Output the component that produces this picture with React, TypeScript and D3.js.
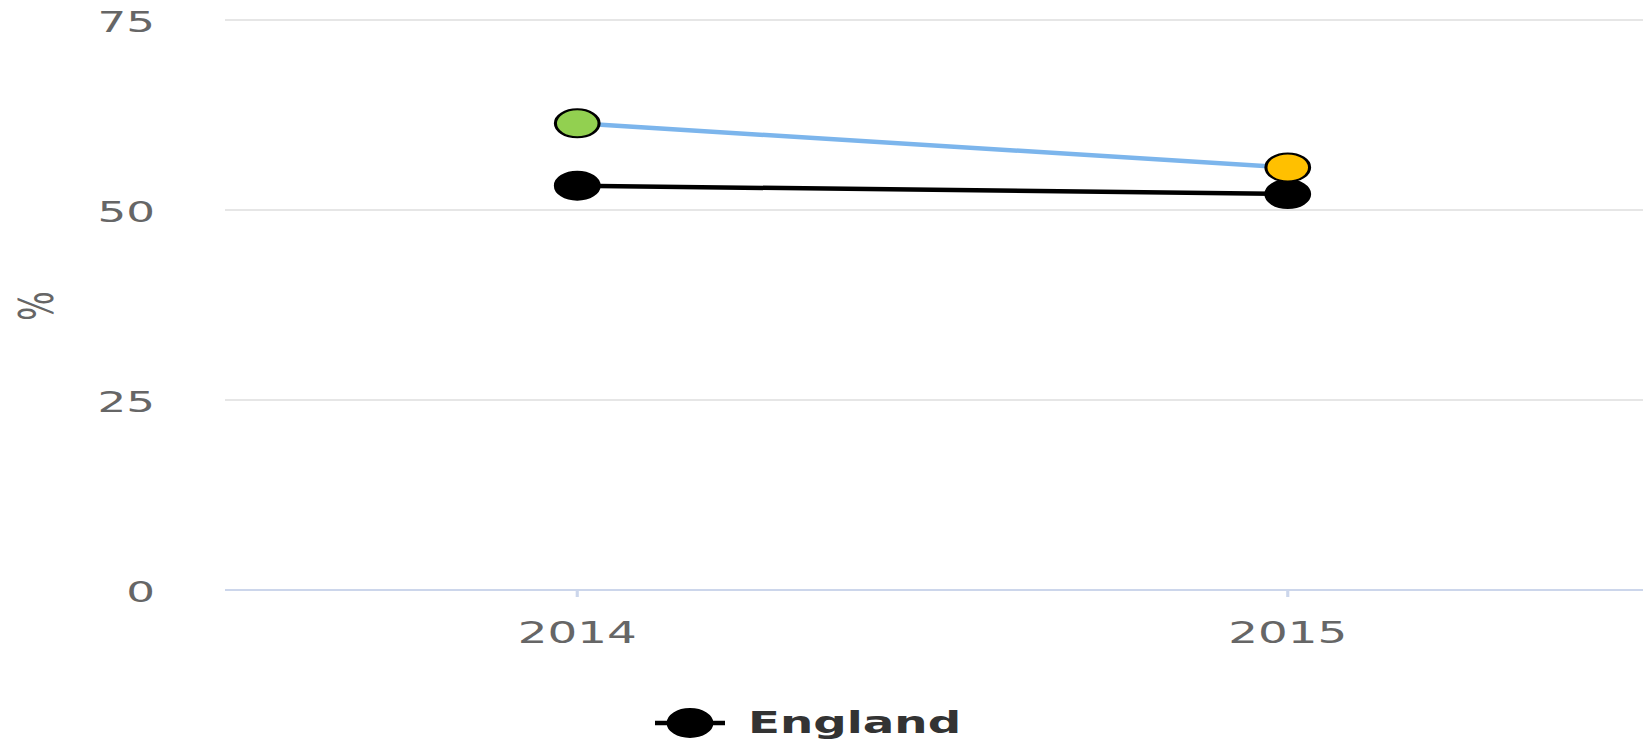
import React from "react";
import * as d3 from "d3";

const categories = ["2014", "2015"];
const englandValues = [53.2, 52.1];
const localValues = [61.4, 55.6];
const localMarkerColors = ["#92d050", "#ffc000"];
const yTicks = [0, 25, 50, 75];
const seriesName = "England";
const yAxisTitle = "%";

const W = 1646;
const H = 741;
const S = 1.56; // horizontal stretch of the original rendering
const VW = W / S;

export default function App() {
  const x = d3
    .scaleBand<string>()
    .domain(categories)
    .range([222 / S, 1643 / S])
    .padding(0);
  const y = d3.scaleLinear().domain([0, 75]).range([590, 20]);
  const cx = (c: string) => (x(c) as number) + x.bandwidth() / 2;

  const line = d3
    .line<number>()
    .x((_, i) => cx(categories[i]))
    .y((d) => y(d));

  const font = "'DejaVu Sans', sans-serif";
  const [x0, x1] = x.range();
  const r = 14;

  return (
    <svg
      width={W}
      height={H}
      viewBox={`0 0 ${VW} ${H}`}
      preserveAspectRatio="none"
      style={{ position: "absolute", left: 0, top: 0, background: "#fff" }}
    >
      {yTicks.map((t) => (
        <g key={t}>
          {t !== 0 && (
            <line x1={225 / S} x2={x1} y1={y(t)} y2={y(t)} stroke="#e6e6e6" strokeWidth={2} />
          )}
          <text
            x={155 / S}
            y={y(t) + 12.5}
            textAnchor="end"
            fontFamily={font}
            fontSize={29}
            fill="#666"
          >
            {t}
          </text>
        </g>
      ))}
      <line x1={225 / S} x2={x1} y1={y(0)} y2={y(0)} stroke="#ccd6eb" strokeWidth={2} />
      {categories.map((c) => (
        <g key={c}>
          <line x1={cx(c)} x2={cx(c)} y1={y(0)} y2={y(0) + 7} stroke="#ccd6eb" strokeWidth={2} />
          <text
            x={cx(c)}
            y={643}
            textAnchor="middle"
            fontFamily={font}
            fontSize={30}
            fill="#666"
          >
            {c}
          </text>
        </g>
      ))}
      <text
        transform={`translate(${53 / S},${306}) rotate(-90)`}
        textAnchor="middle"
        fontFamily={font}
        fontSize={31}
        fill="#666"
      >
        {yAxisTitle}
      </text>

      <path d={line(englandValues) || ""} fill="none" stroke="#000" strokeWidth={4.5} />
      <path d={line(localValues) || ""} fill="none" stroke="#7cb5ec" strokeWidth={4.5} />

      {englandValues.map((v, i) => (
        <ellipse
          key={"e" + i}
          cx={cx(categories[i])}
          cy={y(v)}
          rx={r}
          ry={r}
          fill="#000"
          stroke="#000"
          strokeWidth={2}
        />
      ))}
      {localValues.map((v, i) => (
        <ellipse
          key={"l" + i}
          cx={cx(categories[i])}
          cy={y(v)}
          rx={r}
          ry={r}
          fill={localMarkerColors[i]}
          stroke="#000"
          strokeWidth={2}
        />
      ))}

      <g>
        <line x1={655 / S} x2={725 / S} y1={723} y2={723} stroke="#000" strokeWidth={4.5} />
        <ellipse cx={690 / S} cy={723} rx={r} ry={r} fill="#000" stroke="#000" strokeWidth={2} />
        <text
          x={748 / S}
          y={733}
          fontFamily={font}
          fontSize={30}
          fontWeight="bold"
          fill="#333"
        >
          {seriesName}
        </text>
      </g>
    </svg>
  );
}
